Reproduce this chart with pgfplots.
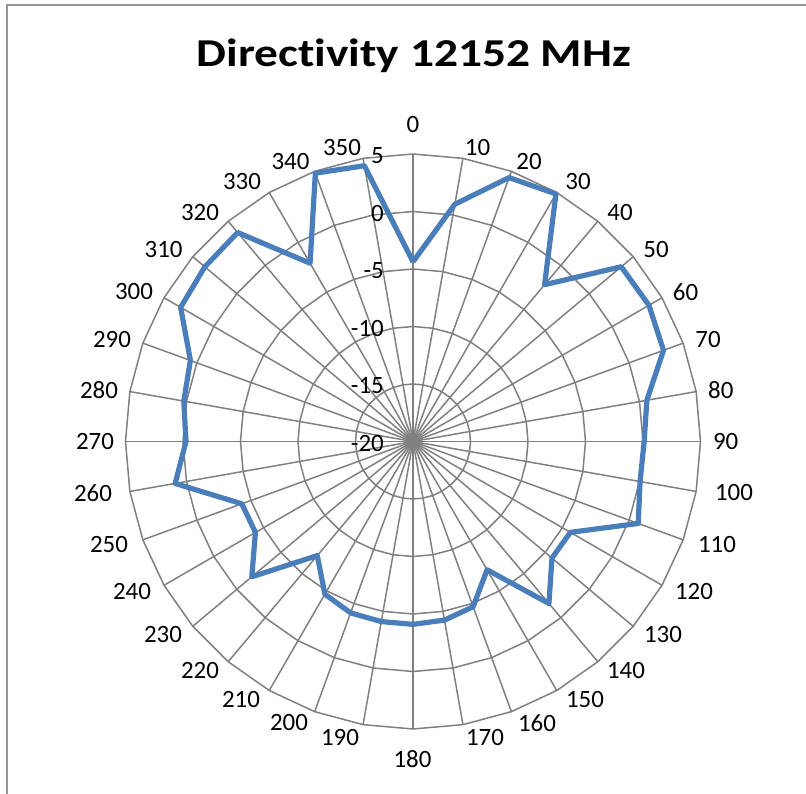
\documentclass[border=0pt]{standalone}
\usepackage{fontspec}
\setmainfont{Carlito}[Ligatures={NoCommon}]
\usepackage{graphicx}
\usepackage{pgfplots}
\usepackage{pgfplotstable}
\pgfplotsset{compat=1.18}
\definecolor{gridc}{RGB}{128,128,128}
\definecolor{framec}{RGB}{150,150,150}
\definecolor{serie}{RGB}{74,126,187}

\pgfplotstableread{
a v
0 -4.37
10 0.95
20 4.42
30 4.86
40 -2.2
50 3.64
60 3.69
70 3.18
80 0.65
90 0.1
100 0.05
110 0.84
120 -4.2
130 -4.23
140 -1.61
150 -7.12
160 -4.71
170 -4.23
180 -4.1
190 -4.1
200 -4.14
210 -4.67
220 -7.05
230 -1.7
240 -4.18
250 -4.16
260 1.0
270 -0.26
280 0.24
290 0.6
300 3.33
310 3.63
320 3.72
330 -2.1
340 4.83
350 4.35
360 -4.37
}\directivity

\begin{document}
\begin{tikzpicture}
\path[use as bounding box] (0pt,0pt) rectangle (806pt,-794pt);
% frame (top and left edges visible)
\draw[framec, line width=2pt] (7pt,-794pt) -- (7pt,-5pt) -- (806pt,-5pt);
% polygonal grid
\begin{scope}[shift={(413pt,-441.5pt)}]
  \foreach \a in {0,10,...,350} {
    \draw[gridc, line width=1.5pt] (0,0) -- ({90-\a}:287.5pt);
  }
  \foreach \r in {57.5,115,172.5,230,287.5} {
    \draw[gridc, line width=1.5pt, line join=miter] (90:\r pt) \foreach \a in {10,20,...,350} { -- ({90-\a}:\r pt) } -- cycle;
  }
\end{scope}
\begin{axis}[
  at={(413pt,-441.5pt)}, anchor=origin,
  scale only axis, width=806pt, height=794pt,
  xmin=-35.913, xmax=34.174, ymin=-30.652, ymax=38.391,
  hide axis, clip=false,
]
\addplot[serie, line width=5.2pt, line join=round, no markers]
  table[x expr={(\thisrow{v}+20)*sin(\thisrow{a})}, y expr={(\thisrow{v}+20)*cos(\thisrow{a})}] {\directivity};
\end{axis}
% value axis labels
\foreach \l/\y in {-20/441.5,-15/384,-10/326.5,-5/269,0/211.5,5/154} {
  \node[anchor=east, inner sep=0pt, font=\fontsize{24.9}{30}\selectfont] at (384pt,-\y pt-2pt) {\l};
}
% angle labels
\foreach \l/\x/\y in {0/413/124.5,10/477.5/147.5,20/529/161.5,30/578/182,40/620/212.5,50/656/249.5,60/685.5/291.7,70/708/339.5,80/720.8/390.5,90/725.7/441.5,100/734/493,110/717/544.5,120/694/592,130/663/634.5,140/626/671,150/585/700,160/537/723,170/485/737.5,180/412.5/759,190/340/737.5,200/289/723,210/241/700,220/200/671,230/163/634.5,240/132/592,250/109/544.5,260/93/493,270/95/441.5,280/99/390.5,290/112/339.5,300/134/291.7,310/163.6/249.5,320/200/212.5,330/242/182,340/290.5/161.5,350/342/147.5} {
  \node[anchor=center, inner sep=0pt, font=\fontsize{24.9}{30}\selectfont] at (\x pt,-\y pt) {\l};
}
% title
\node[anchor=base, inner sep=0pt] at (414pt,-66.7pt) {\scalebox{1.2}[1]{\fontsize{39.5}{46}\selectfont\bfseries Directivity 12152 MHz}};
\end{tikzpicture}
\end{document}
